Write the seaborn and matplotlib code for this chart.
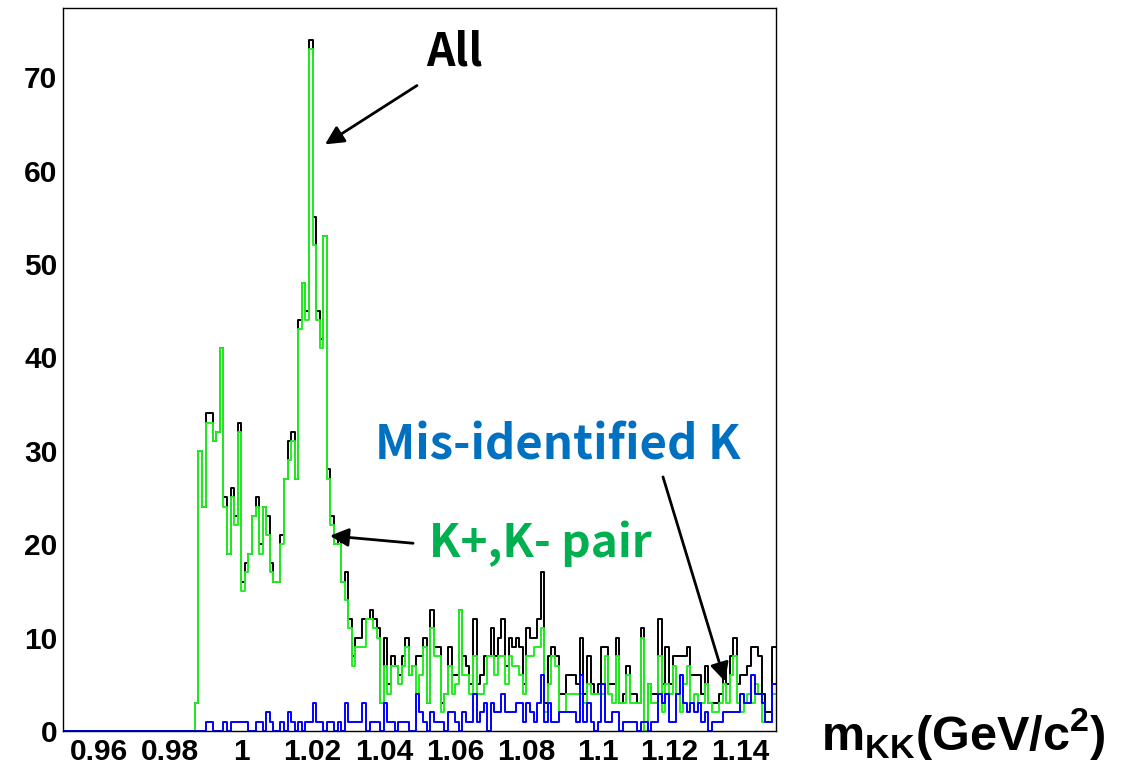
import numpy as np
import pandas as pd
import matplotlib
matplotlib.use('Agg')
import matplotlib.pyplot as plt
from matplotlib.ticker import MultipleLocator, FuncFormatter
import seaborn as sns

# histogram binning: 200 bins of 1 MeV between 0.95 and 1.15 GeV/c^2
x_min = 0.95
x_max = 1.15
n_bins = 200

# K+,K- pair (green), counts per bin
pair_counts = [
    0, 0, 0, 0, 0, 0, 0, 0, 0, 0,
    0, 0, 0, 0, 0, 0, 0, 0, 0, 0,
    0, 0, 0, 0, 0, 0, 0, 0, 0, 0,
    0, 0, 0, 0, 0, 0, 0, 3, 30, 24,
    33, 33, 31, 32, 41, 24, 19, 25, 22, 32,
    15, 17, 19, 23, 24, 19, 24, 21, 17, 16,
    16, 20, 27, 29, 31, 27, 43, 48, 44, 73,
    52, 44, 41, 53, 27, 22, 20, 20, 16, 14,
    11, 7, 9, 9, 9, 12, 12, 11, 10, 3,
    7, 4, 7, 7, 5, 7, 9, 6, 7, 4,
    6, 9, 3, 11, 8, 8, 2, 4, 7, 4,
    5, 13, 6, 6, 4, 8, 4, 4, 5, 8,
    8, 6, 8, 8, 5, 8, 7, 7, 6, 4,
    8, 8, 9, 9, 11, 2, 5, 8, 7, 2,
    2, 4, 4, 4, 4, 4, 3, 5, 4, 4,
    4, 4, 8, 4, 3, 8, 3, 3, 6, 3,
    3, 3, 10, 0, 5, 3, 3, 8, 2, 5,
    4, 7, 4, 2, 5, 7, 3, 4, 3, 3,
    5, 3, 2, 2, 3, 5, 3, 6, 8, 3,
    2, 3, 4, 3, 5, 4, 1, 1, 1, 4,
]

# mis-identified K (blue), counts per bin
misid_counts = [
    0, 0, 0, 0, 0, 0, 0, 0, 0, 0,
    0, 0, 0, 0, 0, 0, 0, 0, 0, 0,
    0, 0, 0, 0, 0, 0, 0, 0, 0, 0,
    0, 0, 0, 0, 0, 0, 0, 0, 0, 0,
    1, 1, 0, 0, 0, 1, 0, 1, 1, 1,
    1, 1, 0, 0, 1, 1, 0, 2, 1, 0,
    0, 1, 0, 2, 1, 0, 1, 0, 1, 1,
    3, 1, 1, 0, 1, 1, 0, 1, 0, 3,
    1, 1, 1, 1, 3, 0, 1, 1, 1, 0,
    3, 1, 1, 0, 1, 1, 1, 0, 0, 4,
    2, 1, 0, 2, 1, 1, 1, 0, 2, 2,
    1, 0, 2, 1, 1, 4, 1, 2, 3, 0,
    3, 2, 2, 4, 2, 2, 2, 3, 3, 1,
    3, 2, 1, 3, 6, 1, 3, 1, 1, 2,
    2, 2, 2, 2, 1, 6, 1, 3, 1, 0,
    1, 5, 1, 1, 2, 2, 0, 1, 1, 1,
    1, 0, 1, 1, 0, 1, 1, 4, 3, 4,
    1, 1, 4, 6, 3, 2, 3, 2, 3, 1,
    2, 0, 1, 1, 1, 2, 2, 2, 2, 2,
    4, 3, 3, 6, 4, 4, 3, 1, 1, 5,
]

# "All" = pairs + mis-identified
all_counts = [p + m for p, m in zip(pair_counts, misid_counts)]

bin_width = (x_max - x_min) / n_bins
centers = x_min + bin_width * (np.arange(n_bins) + 0.5)
df = pd.DataFrame({
    'mkk': centers,
    'all': all_counts,
    'pair': pair_counts,
    'misid': misid_counts,
})

sns.set_theme(style='white')
plt.rcParams['font.family'] = ['Liberation Sans', 'DejaVu Sans']
plt.rcParams['font.weight'] = 'bold'
plt.rcParams['mathtext.fontset'] = 'custom'
plt.rcParams['mathtext.rm'] = 'Liberation Sans'
plt.rcParams['mathtext.bf'] = 'Liberation Sans:bold'

fig = plt.figure(figsize=(11.24, 7.75), dpi=100)
ax = fig.add_axes([63 / 1124, 1 - 731 / 775, 713 / 1124, 723 / 775])

hist_kw = dict(x='mkk', bins=n_bins, binrange=(x_min, x_max),
               element='step', fill=False, linewidth=1.4, ax=ax)
sns.histplot(data=df, weights='all', color='black', **hist_kw)
sns.histplot(data=df, weights='pair', color='#22ee22', **hist_kw)
sns.histplot(data=df, weights='misid', color='#0000ff', **hist_kw)

ax.set_xlim(x_min, x_max)
ax.set_ylim(0, 77.4)
ax.set_xlabel('')
ax.set_ylabel('')

ax.xaxis.set_major_locator(MultipleLocator(0.02))
ax.xaxis.set_minor_locator(MultipleLocator(0.005))
ax.yaxis.set_major_locator(MultipleLocator(10))
ax.yaxis.set_minor_locator(MultipleLocator(2))
ax.xaxis.set_major_formatter(FuncFormatter(lambda v, p: '%g' % round(v, 3)))

ax.tick_params(axis='both', which='both', direction='in', top=False, right=False,
               width=1, colors='black', labelsize=21.5)
ax.tick_params(axis='y', which='major', length=14, pad=4)
ax.tick_params(axis='y', which='minor', length=9)
ax.tick_params(axis='x', which='major', length=9, pad=5)
ax.tick_params(axis='x', which='minor', length=7)
for lab in ax.get_xticklabels() + ax.get_yticklabels():
    lab.set_fontweight('bold')

for s in ax.spines.values():
    s.set_color('black')
    s.set_linewidth(1)

# annotations
jp_font = ['Noto Sans CJK JP', 'DejaVu Sans']
arrow_kw = dict(arrowstyle='-|>', color='black', lw=2, mutation_scale=28,
                shrinkA=0, shrinkB=0)

ax.text(1.0597, 72.6, 'All', fontsize=32, fontweight='bold', family=jp_font,
        ha='center', va='center', color='black')
ax.annotate('', xy=(1.0235, 62.8), xytext=(1.0493, 69.1), arrowprops=arrow_kw)

ax.text(1.0838, 20.0, 'K+,K- pair', fontsize=33, fontweight='bold', family=jp_font,
        ha='center', va='center', color='#00b050')
ax.annotate('', xy=(1.0249, 20.9), xytext=(1.0482, 20.1), arrowprops=arrow_kw)

ax.text(1.0889, 30.6, 'Mis-identified K', fontsize=34, fontweight='bold', family=jp_font,
        ha='center', va='center', color='#0070c0', clip_on=False)
ax.annotate('', xy=(1.1357, 5.3), xytext=(1.1183, 27.2), arrowprops=arrow_kw)

# axis title drawn at the right of the x axis (superscript 2 is not bold)
fig.text(963 / 1124, 1 - 735 / 775, r'$\mathbf{m_{KK}(GeV/c}^{\mathrm{2}}\mathbf{)}$',
         fontsize=35, ha='center', va='center', color='black')

fig.savefig('out.png', dpi=100)
